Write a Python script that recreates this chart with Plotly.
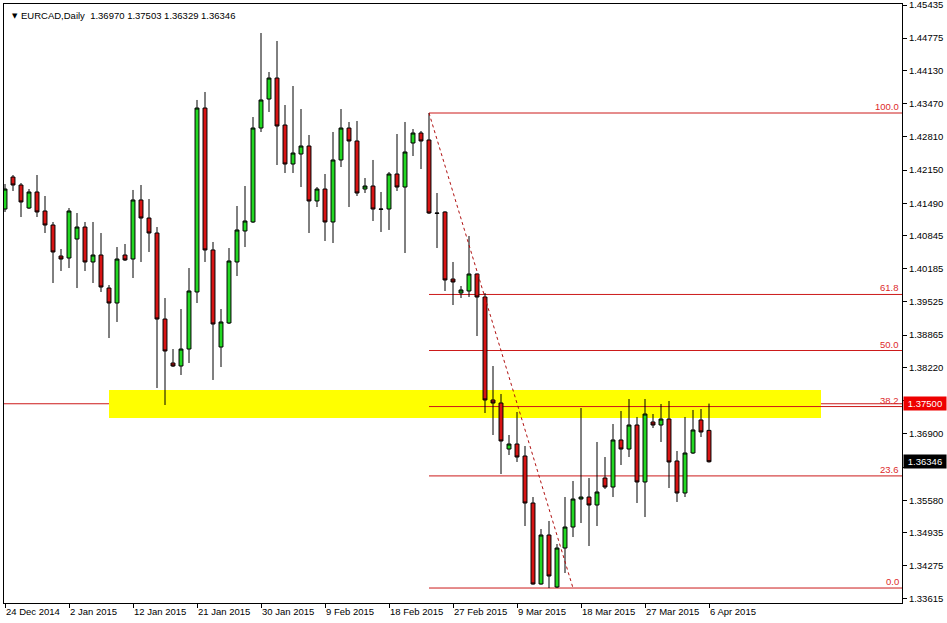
import plotly.graph_objects as go

# ---- data (EURCAD daily, bar index 0..88) ----
bar_index = list(range(89))
opens = [1.41375, 1.42012, 1.41853, 1.41395, 1.41714, 1.41336, 1.41057, 1.40440, 1.40400, 1.40778,
         1.41017, 1.40321, 1.40460, 1.39803, 1.39505, 1.40460, 1.40380, 1.41555, 1.41196, 1.40898,
         1.39186, 1.38311, 1.38251, 1.38589, 1.39724, 1.43385, 1.40560, 1.38629, 1.39107, 1.40321,
         1.40938, 1.41117, 1.42987, 1.43564, 1.43982, 1.43047, 1.42271, 1.42470, 1.42629, 1.41535,
         1.41773, 1.41117, 1.42351, 1.42987, 1.42729, 1.41773, 1.41833, 1.41375, 1.41375, 1.42072,
         1.41813, 1.42689, 1.42888, 1.42749, 1.41296, 1.41316, 1.39982, 1.39704, 1.39744, 1.40082,
         1.39624, 1.37575, 1.37515, 1.36599, 1.36699, 1.36460, 1.35525, 1.33913, 1.34888, 1.33853,
         1.34629, 1.35047, 1.35604, 1.35644, 1.35485, 1.36022, 1.35843, 1.36779, 1.36599, 1.37077,
         1.35943, 1.37137, 1.37077, 1.37196, 1.36361, 1.35724, 1.36520, 1.37177, 1.36970]
highs = [1.41873, 1.42052, 1.41893, 1.41773, 1.42052, 1.41634, 1.41117, 1.40579, 1.41395, 1.41296,
         1.41117, 1.41117, 1.40898, 1.39863, 1.40619, 1.40679, 1.41754, 1.41853, 1.41574, 1.41017,
         1.39604, 1.38589, 1.39385, 1.40201, 1.43545, 1.43704, 1.40719, 1.39385, 1.40599, 1.41435,
         1.41833, 1.43206, 1.44878, 1.44102, 1.44719, 1.43445, 1.43823, 1.43365, 1.42848, 1.41813,
         1.42072, 1.42908, 1.43365, 1.43107, 1.43127, 1.41992, 1.42351, 1.41714, 1.42112, 1.42868,
         1.43107, 1.42967, 1.42928, 1.43286, 1.41694, 1.41330, 1.40321, 1.39843, 1.40838, 1.40090,
         1.39704, 1.38251, 1.37694, 1.36878, 1.37336, 1.36659, 1.35644, 1.35007, 1.35167, 1.34709,
         1.35644, 1.35963, 1.37415, 1.36022, 1.36739, 1.36440, 1.37097, 1.37356, 1.37594, 1.37236,
         1.37594, 1.37296, 1.37495, 1.37555, 1.36560, 1.37236, 1.37376, 1.37395, 1.37503]
lows = [1.41316, 1.41734, 1.41216, 1.41375, 1.41216, 1.40898, 1.39903, 1.40142, 1.40201, 1.39803,
        1.40142, 1.39903, 1.39724, 1.38808, 1.39127, 1.40341, 1.40002, 1.40321, 1.40520, 1.37813,
        1.37475, 1.38231, 1.38072, 1.38311, 1.39505, 1.40321, 1.37973, 1.38231, 1.39087, 1.40042,
        1.40619, 1.41097, 1.42908, 1.43306, 1.42251, 1.42092, 1.42092, 1.41813, 1.40898, 1.41415,
        1.40739, 1.40699, 1.42211, 1.41415, 1.41634, 1.41694, 1.41137, 1.40918, 1.40958, 1.41734,
        1.40500, 1.42430, 1.42171, 1.41276, 1.40599, 1.39744, 1.39465, 1.39604, 1.39624, 1.38848,
        1.37316, 1.36878, 1.36102, 1.36480, 1.36341, 1.35067, 1.33900, 1.33900, 1.33833, 1.33833,
        1.34132, 1.34848, 1.35127, 1.34669, 1.35067, 1.35803, 1.35644, 1.36281, 1.36440, 1.35525,
        1.35246, 1.37017, 1.36739, 1.35823, 1.35545, 1.35644, 1.36500, 1.36838, 1.36329]
closes = [1.41773, 1.41853, 1.41515, 1.41714, 1.41316, 1.41057, 1.40520, 1.40380, 1.41336, 1.41017,
          1.40321, 1.40460, 1.39823, 1.39505, 1.40380, 1.40361, 1.41555, 1.41196, 1.40898, 1.39186,
          1.38550, 1.38251, 1.38589, 1.39744, 1.43385, 1.40560, 1.39087, 1.39127, 1.40341, 1.40958,
          1.41137, 1.42987, 1.43545, 1.43982, 1.43027, 1.42271, 1.42490, 1.42629, 1.41535, 1.41773,
          1.41117, 1.42351, 1.42987, 1.42729, 1.41694, 1.41833, 1.41375, 1.41370, 1.42072, 1.41813,
          1.42510, 1.42888, 1.42729, 1.41296, 1.41290, 1.39963, 1.39923, 1.39764, 1.40082, 1.39624,
          1.37575, 1.37515, 1.36759, 1.36699, 1.36440, 1.35525, 1.33913, 1.34888, 1.34072, 1.34629,
          1.35047, 1.35604, 1.35644, 1.35485, 1.35744, 1.35843, 1.36779, 1.36599, 1.37077, 1.35943,
          1.37296, 1.37077, 1.37196, 1.36341, 1.35724, 1.36520, 1.36978, 1.36938, 1.36346]

date_tick_index = [0, 8, 16, 24, 32, 40, 48, 56, 64, 72, 80, 88]
date_tick_labels = ["24 Dec 2014", "2 Jan 2015", "12 Jan 2015", "21 Jan 2015", "30 Jan 2015",
                    "9 Feb 2015", "18 Feb 2015", "27 Feb 2015", "9 Mar 2015", "18 Mar 2015",
                    "27 Mar 2015", "6 Apr 2015"]
price_ticks = [1.45435, 1.44775, 1.44130, 1.43470, 1.42810, 1.42150, 1.41490, 1.40845, 1.40185,
               1.39525, 1.38865, 1.38220, 1.37555, 1.36900, 1.36240, 1.35580, 1.34935, 1.34275, 1.33615]
# the 1.37555 and 1.36240 labels are hidden behind the price boxes in the reference
price_tick_labels = ["1.45435", "1.44775", "1.44130", "1.43470", "1.42810", "1.42150", "1.41490",
                     "1.40845", "1.40185", "1.39525", "1.38865", "1.38220", "", "1.36900", "",
                     "1.35580", "1.34935", "1.34275", "1.33615"]

fib_high_index, fib_high = 53, 1.43286
fib_low_index, fib_low = 71, 1.33833
fib_levels = [100.0, 61.8, 50.0, 38.2, 23.6, 0.0]
support_level = 1.37500
zone_start, zone_end = 13, 102
zone_low, zone_high = 1.37216, 1.37774
title_text = "EURCAD,Daily  1.36970 1.37503 1.36329 1.36346"
last_price = 1.36346

# ---- styling ----
FONT = "Liberation Sans, Arial, sans-serif"
RED_LINE = "#cc1a1a"
x_range = [-0.125, 112.125]
y_range = [1.33535, 1.45455]

fig = go.Figure()
fig.add_trace(go.Candlestick(
    x=bar_index, open=opens, high=highs, low=lows, close=closes,
    increasing=dict(fillcolor="#22d822", line=dict(color="#000000", width=1)),
    decreasing=dict(fillcolor="#d81414", line=dict(color="#000000", width=1)),
    whiskerwidth=0, showlegend=False, hoverinfo="skip",
))

# fib trend line (dotted)
fig.add_trace(go.Scatter(
    x=[fib_high_index, fib_low_index], y=[fib_high, fib_low], mode="lines",
    line=dict(color="#b01010", width=1, dash="dot"), showlegend=False, hoverinfo="skip",
))

shapes = []
shapes.append(dict(type="rect", xref="x", yref="y", x0=zone_start, x1=zone_end,
                   y0=zone_low, y1=zone_high, fillcolor="#ffff00", line=dict(width=0),
                   layer="below"))
shapes.append(dict(type="line", xref="paper", yref="y", x0=0, x1=1,
                   y0=support_level, y1=support_level, line=dict(color=RED_LINE, width=1),
                   layer="below"))
annotations = []
for lv in fib_levels:
    price = fib_low + (fib_high - fib_low) * lv / 100.0
    shapes.append(dict(type="line", xref="x", yref="y", x0=fib_high_index, x1=x_range[1],
                       y0=price, y1=price, line=dict(color=RED_LINE, width=1), layer="below"))
    annotations.append(dict(xref="x", yref="y", x=x_range[1], y=price, text="%.1f" % lv,
                            xanchor="right", yanchor="bottom", showarrow=False, xshift=-1, yshift=-1,
                            font=dict(family=FONT, size=9.5, color="#dd2a2a")))

annotations.append(dict(xref="paper", yref="y", x=1, y=support_level, text="1.37500",
                        xanchor="left", yanchor="middle", showarrow=False, xshift=1,
                        bgcolor="#ee0000", borderpad=1, width=40,
                        font=dict(family=FONT, size=9.5, color="#ffffff")))
annotations.append(dict(xref="paper", yref="y", x=1, y=last_price, text="%.5f" % last_price,
                        xanchor="left", yanchor="middle", showarrow=False, xshift=1,
                        bgcolor="#000000", borderpad=1, width=40,
                        font=dict(family=FONT, size=9.5, color="#ffffff")))
annotations.append(dict(xref="paper", yref="paper", x=0, y=1, text="\u25BC",
                        xanchor="left", yanchor="top", showarrow=False, xshift=6, yshift=-6,
                        font=dict(family="DejaVu Sans", size=7, color="#000000")))
annotations.append(dict(xref="paper", yref="paper", x=0, y=1, text=title_text,
                        xanchor="left", yanchor="top", showarrow=False, xshift=15, yshift=-4,
                        font=dict(family=FONT, size=9.5, color="#000000")))

fig.update_layout(
    width=947, height=623,
    margin=dict(l=4, r=45, t=4, b=20, autoexpand=False),
    paper_bgcolor="#ffffff", plot_bgcolor="#ffffff",
    shapes=shapes, annotations=annotations,
    font=dict(family=FONT, size=9.5, color="#000000"),
    xaxis=dict(range=x_range, rangeslider=dict(visible=False), showgrid=False, zeroline=False,
               automargin=False,
               tickmode="array", tickvals=date_tick_index, ticktext=date_tick_labels,
               ticks="outside", ticklen=4, tickcolor="#000000", ticklabelposition="outside right",
               showline=True, linecolor="#000000", linewidth=1, mirror=True,
               tickfont=dict(family=FONT, size=9.5, color="#000000")),
    yaxis=dict(range=y_range, side="right", showgrid=False, zeroline=False, automargin=False,
               tickmode="array", tickvals=price_ticks, ticktext=price_tick_labels,
               ticks="outside", ticklen=4, tickcolor="#000000", ticklabeloverflow="allow",
               showline=True, linecolor="#000000", linewidth=1, mirror=True,
               tickfont=dict(family=FONT, size=9.5, color="#000000")),
)

fig.write_html("out.html", config={"displayModeBar": False},
               post_script="document.body.style.margin='0';document.body.style.overflow='hidden';")
